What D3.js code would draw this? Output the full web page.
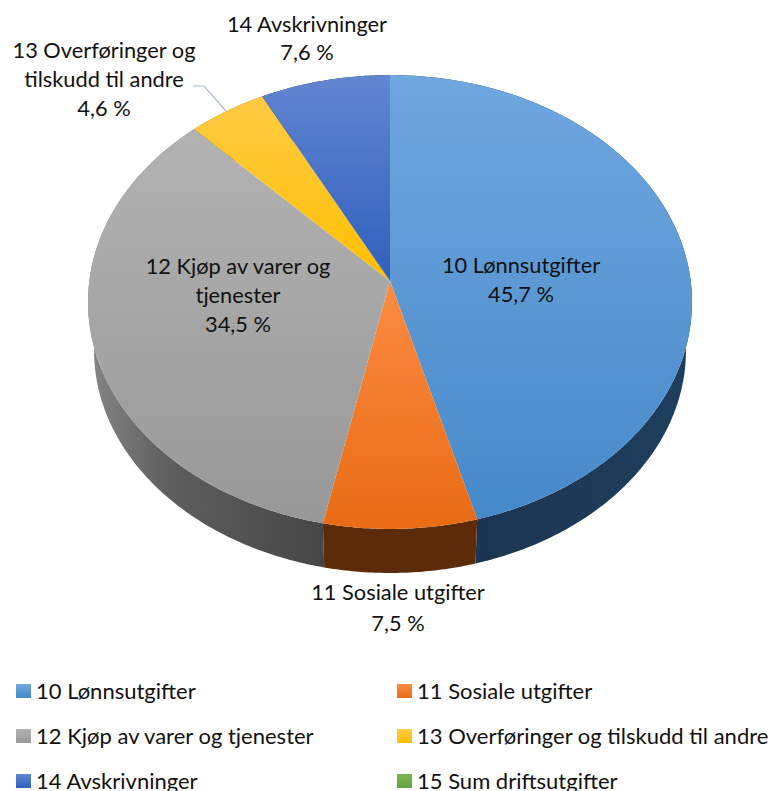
<!DOCTYPE html>
<html>
<head>
<meta charset="utf-8">
<script src="https://cdn.jsdelivr.net/npm/d3@7"></script>
<style>
  html, body { margin: 0; padding: 0; background: #fff; }
  text { font-family: Lato, "Open Sans", sans-serif; fill: #111; }
</style>
</head>
<body>
<div id="plot"></div>
<script>
// chart values
const categories = ["10 Lønnsutgifter", "11 Sosiale utgifter", "12 Kjøp av varer og tjenester",
                    "13 Overføringer og tilskudd til andre", "14 Avskrivninger", "15 Sum driftsutgifter"];
const shares = [45.7, 7.5, 34.5, 4.6, 7.6, 0];
const shareLabels = ["45,7 %", "7,5 %", "34,5 %", "4,6 %", "7,6 %", ""];

// styles, one per slice
const topLight = ["#6fa7df", "#fb8c42", "#b2b2b2", "#ffcb45", "#6285d0", "#7cb552"];
const topDark  = ["#4689c9", "#e96b14", "#989898", "#ffbf00", "#2f60bd", "#63a53c"];
const sideLeft  = ["#1a3450", "#5c2c0a", "#868686", "#7f6000", "#203864", "#385723"];
const sideMid   = ["#1b3652", "#5c2c0a", "#5e5e5e", "#7f6000", "#203864", "#385723"];
const sideRight = ["#1f3e5e", "#5c2c0a", "#464646", "#7f6000", "#203864", "#385723"];

// wrapped data label lines, with the centre of each label block
const labelLines = [
  ["10 Lønnsutgifter"], ["11 Sosiale utgifter"], ["12 Kjøp av varer og", "tjenester"],
  ["13 Overføringer og", "tilskudd til andre"], ["14 Avskrivninger"], []
];
const labelX = [521, 398, 238, 104, 307];
const labelTop = [265, 592, 266, 50, 24];
const labelStep = [29, 31, 29, 29, 28];

var width = 772, height = 791;

var svg = d3.select("div#plot")
  .append("svg")
    .attr("width", width)
    .attr("height", height)
    .style("display", "block");

// perspective view of the disc
var cx = 390, cy = 281, radius = 300.7;
var persp = 0.0925, tilt = 225;
var depthScale = 0.98, depthDrop = 49;

function project(angle, r, bottom) {
  var u = r * Math.sin(angle), v = -r * Math.cos(angle);
  var w = 1 - persp * v;
  var px = radius * u / w, py = tilt * v / w;
  if (bottom) { px *= depthScale; py = py * depthScale + depthDrop; }
  return [cx + px, cy + py];
}

var slices = d3.pie().sort(null).value(d => d)(shares);
var line = d3.line();

function arcAngles(d) {
  var n = Math.max(2, Math.ceil((d.endAngle - d.startAngle) / 0.01));
  return d3.range(n + 1).map(i => d.startAngle + (d.endAngle - d.startAngle) * i / n);
}

var defs = svg.append("defs");
slices.forEach(function(d, i) {
  var g = defs.append("linearGradient").attr("id", "top" + i)
    .attr("x1", 0).attr("y1", 0).attr("x2", 0).attr("y2", 1);
  g.append("stop").attr("offset", 0).attr("stop-color", topLight[i]);
  g.append("stop").attr("offset", 1).attr("stop-color", topDark[i]);

  var s = defs.append("linearGradient").attr("id", "side" + i)
    .attr("x1", 0).attr("y1", 0).attr("x2", 1).attr("y2", 0);
  s.append("stop").attr("offset", 0).attr("stop-color", sideLeft[i]);
  s.append("stop").attr("offset", 0.35).attr("stop-color", sideMid[i]);
  s.append("stop").attr("offset", 1).attr("stop-color", sideRight[i]);
});

var drawn = slices.map((d, i) => ({ d: d, i: i })).filter(s => s.d.value > 0);

// outer walls first, the top faces cover the back ones
svg.append("g").selectAll("path")
  .data(drawn)
  .enter()
  .append("path")
    .attr("d", function(s) {
      var a = arcAngles(s.d);
      var pts = a.map(t => project(t, 1, false)).concat(a.slice().reverse().map(t => project(t, 1, true)));
      return line(pts) + "Z";
    })
    .attr("fill", s => "url(#side" + s.i + ")");

svg.append("g").selectAll("path")
  .data(drawn)
  .enter()
  .append("path")
    .attr("d", function(s) {
      var pts = [project(0, 0, false)].concat(arcAngles(s.d).map(t => project(t, 1, false)));
      return line(pts) + "Z";
    })
    .attr("fill", s => "url(#top" + s.i + ")");

// leader line for the small slice
svg.append("path")
  .attr("d", line([[193, 86], [204, 86], [226, 111]]))
  .attr("fill", "none")
  .attr("stroke", "#adbccd")
  .attr("stroke-width", 1.2);

// data labels
drawn.forEach(function(s) {
  var i = s.i;
  var rows = labelLines[i].concat([shareLabels[i]]);
  svg.append("g").selectAll("text")
    .data(rows)
    .enter()
    .append("text")
      .attr("x", labelX[i])
      .attr("y", (r, k) => labelTop[i] + k * labelStep[i])
      .attr("dy", "0.35em")
      .attr("text-anchor", "middle")
      .style("font-size", "21.8px")
      .text(r => r);
});

// legend, two columns
var legendX = d3.scaleOrdinal().domain([0, 1]).range([16, 397]);
var legendY = d3.scalePoint().domain([0, 1, 2]).range([691, 781]);

var legend = svg.append("g").selectAll("g")
  .data(categories)
  .enter()
  .append("g")
    .attr("transform", (c, i) => "translate(" + legendX(i % 2) + "," + legendY(Math.floor(i / 2)) + ")");

legend.append("rect")
  .attr("x", 0)
  .attr("y", -7)
  .attr("width", 15)
  .attr("height", 14)
  .attr("fill", (c, i) => "url(#top" + i + ")");

legend.append("text")
  .attr("x", 20)
  .attr("dy", "0.35em")
  .style("font-size", "22px")
  .text(c => c);
</script>
</body>
</html>
